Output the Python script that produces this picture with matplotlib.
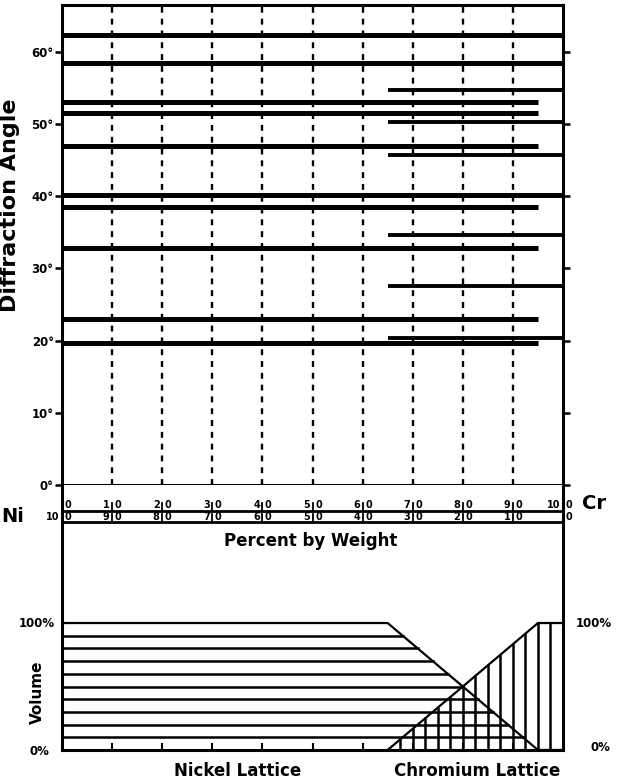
import numpy as np
import matplotlib
matplotlib.use("Agg")
import matplotlib.pyplot as plt

plt.rcParams['font.family'] = ['DejaVu Sans']
plt.rcParams['font.weight'] = 'bold'

# diffraction lines (degrees)
both_lines = [62.4, 58.4, 40.2]                      # run across the whole range
ni_lines = [53.0, 51.5, 46.9, 38.5, 32.8, 23.0, 19.7]  # nickel lattice, 0-95 % Cr
cr_lines = [54.7, 50.3, 45.7, 34.6, 27.6, 20.3]      # chromium lattice, 65-100 % Cr
ni_range = (0, 95)
cr_range = (65, 100)

angle_ticks = [0, 10, 20, 30, 40, 50, 60]
pct_ticks = [0, 10, 20, 30, 40, 50, 60, 70, 80, 90, 100]
cr_labels = [str(v) for v in pct_ticks]
ni_labels = [str(100 - v) for v in pct_ticks]

# volume of each lattice vs % Cr
vol_x = [0, 65, 95, 100]
ni_vol = [100, 100, 0, 0]
cr_vol = [0, 0, 100, 100]
ni_hatch = [10, 20, 30, 40, 50, 60, 70, 80, 90]
cr_hatch = np.arange(67.5, 100, 2.5)

fig = plt.figure(figsize=(6.24, 7.8), dpi=100)
W, H = 624, 780
ax1 = fig.add_axes([62 / W, 1 - 485 / H, 501 / W, 480 / H])
ax2 = fig.add_axes([62 / W, 1 - 750 / H, 501 / W, 265 / H])

# ---- upper panel ----
ax1.set_xlim(0, 100)
ax1.set_ylim(0, 66.5)
for s in ax1.spines.values():
    s.set_linewidth(2.2)
ax1.set_yticks(angle_ticks)
ax1.set_yticklabels([f"{v}°" for v in angle_ticks], fontsize=8.5, fontweight='bold')
ax1.tick_params(axis='y', which='both', direction='out', length=5, width=1.8,
                left=True, right=True, labelright=False, pad=1)
ax1.set_xticks([])

for xv in pct_ticks[1:-1]:
    ax1.axvline(xv, color='black', lw=1.7, ls=(0, (2.5, 2.5)))

for a in both_lines:
    ax1.plot([0, 100], [a, a], color='black', lw=3.6, solid_capstyle='butt')
for a in ni_lines:
    ax1.plot(ni_range, [a, a], color='black', lw=3.6, solid_capstyle='butt')
for a in cr_lines:
    ax1.plot(cr_range, [a, a], color='black', lw=2.8, solid_capstyle='butt')

ax1.text(-10.3, 38.8, "Diffraction Angle", rotation=90, ha='center', va='center',
         fontsize=16, fontweight='bold')

# ---- lower panel + composition scale ----
ax2.set_xlim(0, 100)
ax2.set_ylim(0, 208.7)
ax2.spines['top'].set_visible(False)
for s in ['left', 'right', 'bottom']:
    ax2.spines[s].set_linewidth(2.2)
ax2.set_yticks([])
ax2.set_xticks(pct_ticks[1:-1])
ax2.set_xticklabels([])
ax2.tick_params(axis='x', direction='in', length=5, width=1.5)

row1, row2 = 188.2, 179.5
ax2.plot([0, 100], [row1, row1], color='black', lw=2.0, clip_on=False)
ax2.plot([0, 100], [row2, row2], color='black', lw=2.0, clip_on=False)
for xv, c, n in zip(pct_ticks, cr_labels, ni_labels):
    if 0 < xv < 100:
        ax2.plot([xv, xv], [row1, row1 + 6], color='black', lw=1.3)
        ax2.plot([xv, xv], [row2, row2 + 6], color='black', lw=1.3)
    for lab, yy in [(c, row1 + 4.5), (n, row2 + 4.2)]:
        if len(lab) > 1:
            ax2.text(xv - 0.5, yy, lab[:-1], ha='right', va='center', fontsize=7,
                     fontweight='bold', clip_on=False)
        ax2.text(xv + 0.5, yy, lab[-1], ha='left', va='center', fontsize=7,
                 fontweight='bold', clip_on=False)

ax2.text(-7.5, row2 + 4.2, "Ni", ha='right', va='center', fontsize=14, fontweight='bold')
ax2.text(103.8, row1 + 6, "Cr", ha='left', va='center', fontsize=14, fontweight='bold')
ax2.text(49.7, 164.6, "Percent by Weight", ha='center', va='center', fontsize=12,
         fontweight='bold')

xs = np.linspace(0, 100, 401)
ni_b = np.interp(xs, vol_x, ni_vol)
cr_b = np.interp(xs, vol_x, cr_vol)
# outline of the two lattices
ax2.plot(xs, ni_b, color='black', lw=1.6)
ax2.plot(xs[xs >= 65], cr_b[xs >= 65], color='black', lw=1.6)
# nickel: horizontal hatching
for h in ni_hatch:
    x_end = np.interp(-h, [-v for v in ni_vol[:3]], vol_x[:3])
    ax2.plot([0, x_end], [h, h], color='black', lw=1.8)
# chromium: vertical hatching
for xv in cr_hatch:
    ax2.plot([xv, xv], [0, np.interp(xv, vol_x, cr_vol)], color='black', lw=1.8)

ax2.text(-1.5, 100, "100%", ha='right', va='center', fontsize=8.5, fontweight='bold')
ax2.text(-2.5, -1.5, "0%", ha='right', va='center', fontsize=8.5, fontweight='bold')
ax2.text(102.5, 100, "100%", ha='left', va='center', fontsize=8.5, fontweight='bold')
ax2.text(105.5, 2, "0%", ha='left', va='center', fontsize=8.5, fontweight='bold')
ax2.text(-5, 45.7, "Volume", rotation=90, ha='center', va='center', fontsize=11,
         fontweight='bold')
ax2.text(35, -16.5, "Nickel Lattice", ha='center', va='center', fontsize=12,
         fontweight='bold', clip_on=False)
ax2.text(82.8, -16.5, "Chromium Lattice", ha='center', va='center', fontsize=12,
         fontweight='bold', clip_on=False)

fig.savefig("out.png", dpi=100)
